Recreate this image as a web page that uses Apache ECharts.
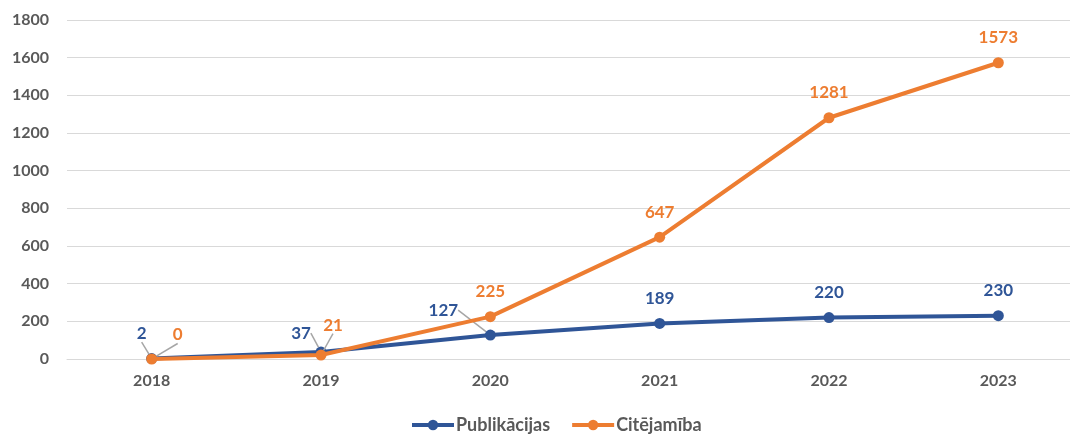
<!DOCTYPE html>
<html>
<head>
<meta charset="utf-8">
<script src="https://cdn.jsdelivr.net/npm/echarts@6/dist/echarts.min.js"></script>
<style>
  html, body { margin: 0; padding: 0; background: #fff; overflow: hidden; }
  #chart { width: 1090px; height: 434px; }
</style>
</head>
<body>
<div id="chart"></div>
<script>
const years = ["2018", "2019", "2020", "2021", "2022", "2023"]
const publikacijas = [2, 37, 127, 189, 220, 230]
const citejamiba = [0, 21, 225, 647, 1281, 1573]
const yTicks = [0, 200, 400, 600, 800, 1000, 1200, 1400, 1600, 1800]

const FONT = "Lato, 'Open Sans', sans-serif"
const BLUE = "#2F5597"
const ORANGE = "#ED7D31"
const GREY = "#595959"

// label shifts (px) for the crowded points on the left, like the leader lines in the original
const blueShift = { 0: [-10, 0], 1: [-20, 6], 2: [-47, 0] }
const orangeShift = { 0: [26, 1], 1: [12, -5] }

function makeData(values, shift) {
  return values.map((v, i) => {
    if (!shift[i]) return v
    return { value: v, labelLine: { show: true } }
  })
}

const chart = echarts.init(document.getElementById("chart"))
chart.setOption({
  animation: false,
  grid: { left: 67, top: 20, width: 1016, height: 339 },
  legend: {
    top: 411,
    left: 405,
    itemWidth: 42,
    itemHeight: 13,
    itemGap: 20,
    lineStyle: { width: 4 },
    textStyle: { color: GREY, fontFamily: FONT, fontWeight: "bold", fontSize: 18, padding: [0, 0, 0, -3] },
    data: ["Publikācijas", "Citējamība"]
  },
  xAxis: {
    type: "category",
    data: years,
    boundaryGap: true,
    axisLine: { lineStyle: { color: "#D9D9D9", width: 1 } },
    axisTick: { show: false },
    axisLabel: { color: GREY, fontFamily: FONT, fontWeight: "bold", fontSize: 16, margin: 14 }
  },
  yAxis: {
    type: "value",
    min: yTicks[0],
    max: yTicks[yTicks.length - 1],
    interval: 200,
    axisLine: { show: false },
    axisTick: { show: false },
    splitLine: { lineStyle: { color: "#D9D9D9", width: 1 } },
    axisLabel: { color: GREY, fontFamily: FONT, fontWeight: "bold", fontSize: 16, margin: 18, formatter: v => String(v) }
  },
  series: [
    {
      name: "Publikācijas",
      type: "line",
      data: makeData(publikacijas, blueShift),
      symbol: "circle",
      symbolSize: 11,
      lineStyle: { color: BLUE, width: 4 },
      itemStyle: { color: BLUE },
      label: {
        show: true, position: "top", distance: 11,
        color: BLUE, fontFamily: FONT, fontWeight: "bold", fontSize: 17
      },
      labelLine: { lineStyle: { color: "#A6A6A6", width: 1.5 } },
      labelLayout: p => blueShift[p.dataIndex] ? { dx: blueShift[p.dataIndex][0], dy: blueShift[p.dataIndex][1] } : {},
      z: 2
    },
    {
      name: "Citējamība",
      type: "line",
      data: makeData(citejamiba, orangeShift),
      symbol: "circle",
      symbolSize: 11,
      lineStyle: { color: ORANGE, width: 4 },
      itemStyle: { color: ORANGE },
      label: {
        show: true, position: "top", distance: 11,
        color: ORANGE, fontFamily: FONT, fontWeight: "bold", fontSize: 17
      },
      labelLine: { lineStyle: { color: "#A6A6A6", width: 1.5 } },
      labelLayout: p => orangeShift[p.dataIndex] ? { dx: orangeShift[p.dataIndex][0], dy: orangeShift[p.dataIndex][1] } : {},
      z: 3
    }
  ]
})
</script>
</body>
</html>
